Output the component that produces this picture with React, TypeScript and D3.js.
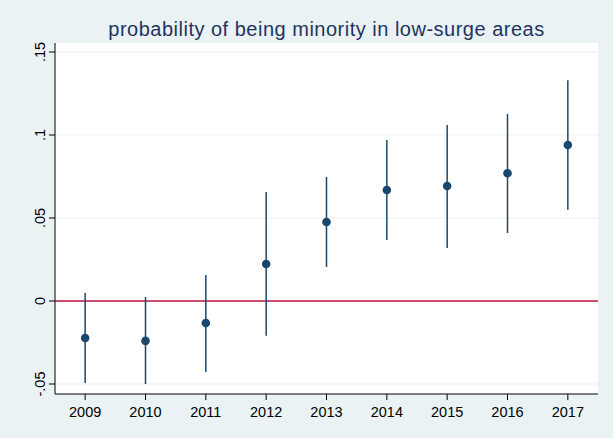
import React from "react";
import * as d3 from "d3";

const years = [2009, 2010, 2011, 2012, 2013, 2014, 2015, 2016, 2017];
const estimates = [-0.0223, -0.024, -0.0133, 0.0223, 0.0476, 0.0669, 0.0693, 0.077, 0.094];
const ciLower = [-0.0494, -0.05, -0.0428, -0.021, 0.0205, 0.0367, 0.032, 0.041, 0.055];
const ciUpper = [0.0048, 0.0024, 0.0157, 0.0657, 0.0747, 0.097, 0.106, 0.1127, 0.133];
const yTicks = [-0.05, 0, 0.05, 0.1, 0.15];
const yTickLabels = ["-.05", "0", ".05", ".1", ".15"];
const title = "probability of being minority in low-surge areas";

const W = 613;
const H = 438;
const plot = { left: 55, right: 598, top: 43, bottom: 394 };
const navy = "#1a476f";
const bg = "#eaf2f3";
const font = "'Liberation Sans', Arial, sans-serif";

export default function App() {
  const x = d3.scaleLinear().domain([2008.5, 2017.5]).range([plot.left, plot.right]);
  const y = d3.scaleLinear().domain([-0.05, 0.15]).range([384, 52]);

  return (
    <svg
      width={W}
      height={H}
      style={{ position: "absolute", left: 0, top: 0, display: "block" }}
      fontFamily={font}
    >
      <rect x={0} y={0} width={W} height={H} fill={bg} />
      <rect
        x={plot.left}
        y={plot.top}
        width={plot.right - plot.left}
        height={plot.bottom - plot.top}
        fill="#ffffff"
      />
      {yTicks.map((t) => (
        <line
          key={"g" + t}
          x1={plot.left}
          x2={plot.right}
          y1={y(t)}
          y2={y(t)}
          stroke={bg}
          strokeWidth={1.2}
        />
      ))}
      <line x1={plot.left} x2={plot.right} y1={y(0)} y2={y(0)} stroke="#c0163f" strokeWidth={1.3} />
      {years.map((yr, i) => (
        <g key={yr}>
          <line
            x1={x(yr)}
            x2={x(yr)}
            y1={y(ciLower[i])}
            y2={y(ciUpper[i])}
            stroke={navy}
            strokeWidth={1.5}
          />
          <circle cx={x(yr)} cy={y(estimates[i])} r={4.3} fill={navy} />
        </g>
      ))}
      <line x1={plot.left} x2={plot.left} y1={plot.top} y2={plot.bottom} stroke="#000" strokeWidth={1} />
      <line x1={plot.left} x2={plot.right} y1={plot.bottom} y2={plot.bottom} stroke="#000" strokeWidth={1} />
      {yTicks.map((t, i) => (
        <g key={"yt" + t}>
          <line x1={plot.left - 6} x2={plot.left} y1={y(t)} y2={y(t)} stroke="#000" strokeWidth={1} />
          <text
            transform={`translate(${plot.left - 10},${y(t)}) rotate(-90)`}
            textAnchor="middle"
            fontSize={14.5}
            fill="#000"
          >
            {yTickLabels[i]}
          </text>
        </g>
      ))}
      {years.map((yr) => (
        <g key={"xt" + yr}>
          <line x1={x(yr)} x2={x(yr)} y1={plot.bottom} y2={plot.bottom + 6} stroke="#000" strokeWidth={1} />
          <text x={x(yr)} y={plot.bottom + 23} textAnchor="middle" fontSize={14.5} fill="#000">
            {yr}
          </text>
        </g>
      ))}
      <text x={326.5} y={36} textAnchor="middle" fontSize={20} letterSpacing={0.5} fill="#1e3462">
        {title}
      </text>
    </svg>
  );
}
